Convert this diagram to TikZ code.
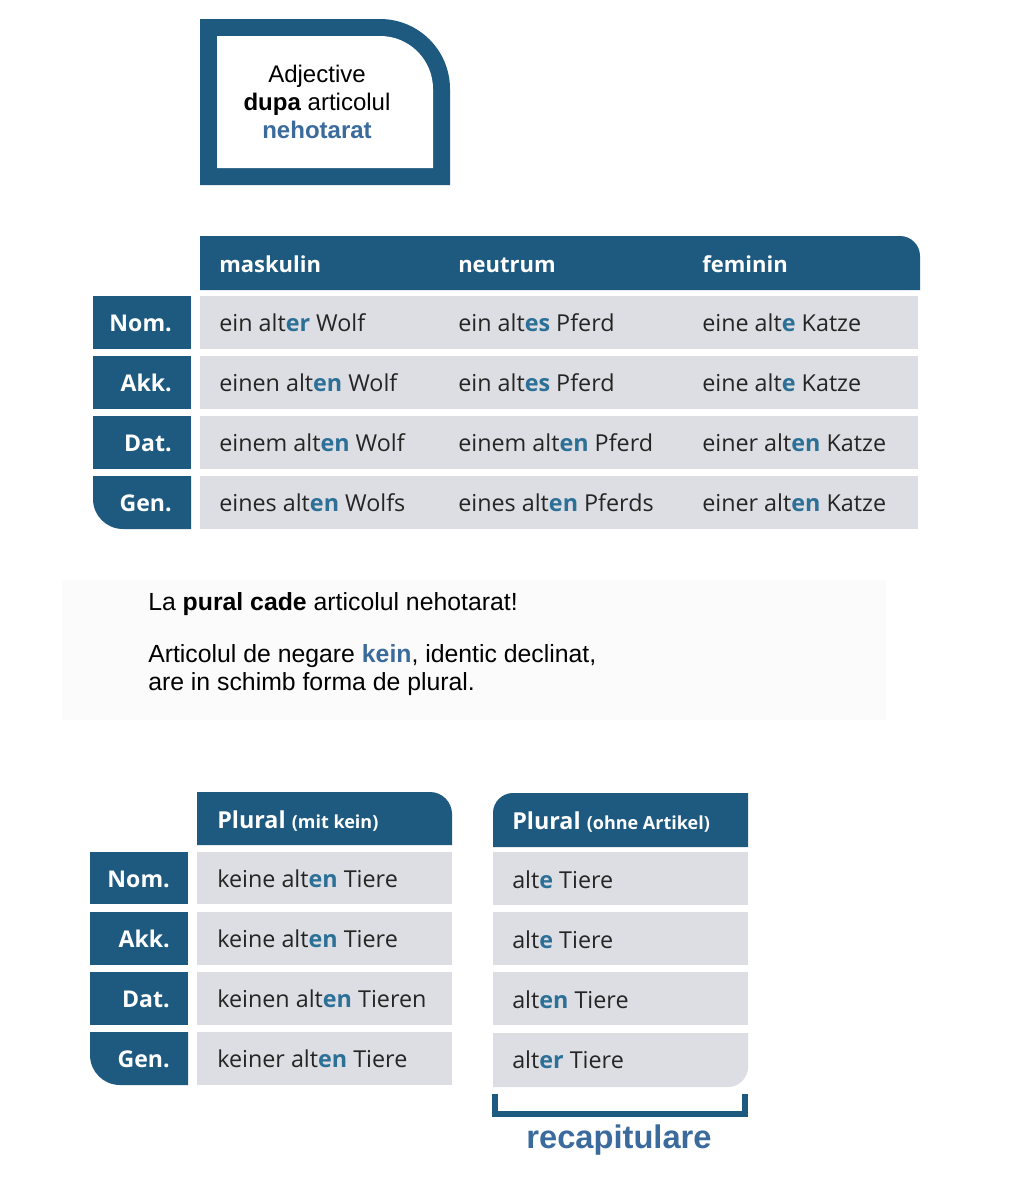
\documentclass[tikz,border=0pt]{standalone}
\usepackage{fontspec}
\setmainfont{Liberation Sans}
\newfontfamily\tabfont{Open Sans}
\definecolor{boxblue}{HTML}{1E5A80}
\definecolor{rowgray}{HTML}{DCDEE3}
\definecolor{endc}{HTML}{2C7097}
\definecolor{txt}{HTML}{252525}
\definecolor{roblue}{HTML}{3A6B9C}
\definecolor{panel}{HTML}{FBFBFB}
\newcommand\En[1]{\textcolor{endc}{\bfseries #1}}
\tikzset{
  lbl/.style={font=\tabfont\bfseries\fontsize{17.3}{20}\selectfont, text=white, anchor=base east, inner sep=0pt},
  cell/.style={font=\tabfont\fontsize{17.5}{21}\selectfont, text=txt, anchor=base west, inner sep=0pt},
  hdr/.style={font=\tabfont\bfseries\fontsize{16.5}{20}\selectfont, text=white, anchor=base west, inner sep=0pt},
  rotext/.style={font=\fontsize{18.6}{22}\selectfont, text=black, anchor=base west, inner sep=0pt},
  topline/.style={font=\fontsize{18}{21}\selectfont, text=black, anchor=base, inner sep=0pt},
}
\begin{document}
\begin{tikzpicture}[x=0.75pt,y=-0.75pt]
\useasboundingbox (0,0) rectangle (1024,1178);
\fill[white] (0,0) rectangle (1024,1178);

% ---------- top title box ----------
\fill[boxblue] (200,185) -- (200,19) -- (380,19) .. controls (418.7,19) and (450,50.3) .. (450,89) -- (450,185) -- cycle;
\fill[white] (217,168) -- (217,36) -- (380,36) .. controls (409.3,36) and (433,59.7) .. (433,89) -- (433,168) -- cycle;
\node[topline] (t1) at (317,82) {Adjective};
\node[topline] (t2) at (317,110) {\textbf{dupa} articolul};
\node[topline,text=roblue] (t3) at (317,138) {\textbf{nehotarat}};

% ---------- main table ----------
\fill[boxblue] (200,290) -- (200,236) -- (900,236) .. controls (911,236) and (920,245) .. (920,256) -- (920,290) -- cycle;
\node[hdr] (hm) at (219,272) {maskulin};
\node[hdr] (hn) at (458,272) {neutrum};
\node[hdr] (hf) at (702,272) {feminin};

\foreach \ya/\yb in {296/349, 356/409, 416/469}{
  \fill[boxblue] (93,\ya) rectangle (191,\yb);
}
\fill[boxblue] (93,476) -- (191,476) -- (191,529) -- (123,529) .. controls (106.4,529) and (93,515.6) .. (93,499) -- cycle;
\foreach \ya/\yb in {296/349, 356/409, 416/469, 476/529}{
  \fill[rowgray] (200,\ya) rectangle (918,\yb);
}
\node[lbl] (nom) at (172,331) {Nom.};
\node[lbl] (akk) at (172,391) {Akk.};
\node[lbl] (dat) at (172,451) {Dat.};
\node[lbl] (gen) at (172,511) {Gen.};

\node[cell] (m1) at (219,331) {ein alt\En{er} Wolf};
\node[cell] (n1) at (458,331) {ein alt\En{es} Pferd};
\node[cell] (f1) at (702,331) {eine alt\En{e} Katze};
\node[cell] (m2) at (219,391) {einen alt\En{en} Wolf};
\node[cell] (n2) at (458,391) {ein alt\En{es} Pferd};
\node[cell] (f2) at (702,391) {eine alt\En{e} Katze};
\node[cell] (m3) at (219,451) {einem alt\En{en} Wolf};
\node[cell] (n3) at (458,451) {einem alt\En{en} Pferd};
\node[cell] (f3) at (702,451) {einer alt\En{en} Katze};
\node[cell] (m4) at (219,511) {eines alt\En{en} Wolfs};
\node[cell] (n4) at (458,511) {eines alt\En{en} Pferds};
\node[cell] (f4) at (702,511) {einer alt\En{en} Katze};

% ---------- middle note ----------
\fill[panel] (62,580) rectangle (886,720);
\node[rotext] (p1) at (148,610) {La \textbf{pural cade} articolul nehotarat!};
\node[rotext] (p2) at (148,662) {Articolul de negare \textcolor{roblue}{\textbf{kein}}, identic declinat,};
\node[rotext] (p3) at (148,690) {are in schimb forma de plural.};

% ---------- bottom left table ----------
\fill[boxblue] (197,845) -- (197,792) -- (430,792) .. controls (442.1,792) and (452,801.9) .. (452,814) -- (452,845) -- cycle;
\node[hdr] (hpk) at (217,828) {\fontsize{17.5}{20}\selectfont Plural \fontsize{13.5}{16}\selectfont(mit kein)};
\foreach \ya/\yb in {852/904, 912/965, 972/1025}{
  \fill[boxblue] (90,\ya) rectangle (188,\yb);
}
\fill[boxblue] (90,1032) -- (188,1032) -- (188,1085) -- (120,1085) .. controls (103.4,1085) and (90,1071.6) .. (90,1055) -- cycle;
\foreach \ya/\yb in {852/904, 912/965, 972/1025, 1032/1085}{
  \fill[rowgray] (197,\ya) rectangle (452,\yb);
}
\node[lbl] (bnom) at (170,887) {Nom.};
\node[lbl] (bakk) at (170,947) {Akk.};
\node[lbl] (bdat) at (170,1007) {Dat.};
\node[lbl] (bgen) at (170,1067) {Gen.};
\node[cell] (k1) at (217,887) {keine alt\En{en} Tiere};
\node[cell] (k2) at (217,947) {keine alt\En{en} Tiere};
\node[cell] (k3) at (217,1007) {keinen alt\En{en} Tieren};
\node[cell] (k4) at (217,1067) {keiner alt\En{en} Tiere};

% ---------- bottom right table ----------
\fill[boxblue] (748,847) -- (748,793) -- (513,793) .. controls (502,793) and (493,802) .. (493,813) -- (493,847) -- cycle;
\node[hdr] (hpo) at (512,829) {\fontsize{17.5}{20}\selectfont Plural \fontsize{13.5}{16}\selectfont(ohne Artikel)};
\foreach \ya/\yb in {852/905, 912/965, 972/1025}{
  \fill[rowgray] (493,\ya) rectangle (748,\yb);
}
\fill[rowgray] (493,1033) -- (748,1033) -- (748,1067) .. controls (748,1078) and (739,1087) .. (728,1087) -- (493,1087) -- cycle;
\node[cell] (o1) at (512,888) {alt\En{e} Tiere};
\node[cell] (o2) at (512,948) {alt\En{e} Tiere};
\node[cell] (o3) at (512,1008) {alt\En{en} Tiere};
\node[cell] (o4) at (512,1068) {alt\En{er} Tiere};

% ---------- bracket ----------
\coordinate (bl) at (495,1094);
\coordinate (br) at (745,1094);
\draw[boxblue, line width=4.3pt] (bl) -- (495,1114) -- (745,1114) -- (br);
\node[font=\bfseries\fontsize{24.5}{28}\selectfont, text=roblue, anchor=base, inner sep=0pt] (rec) at (619,1148) {recapitulare};
\end{tikzpicture}
\end{document}
